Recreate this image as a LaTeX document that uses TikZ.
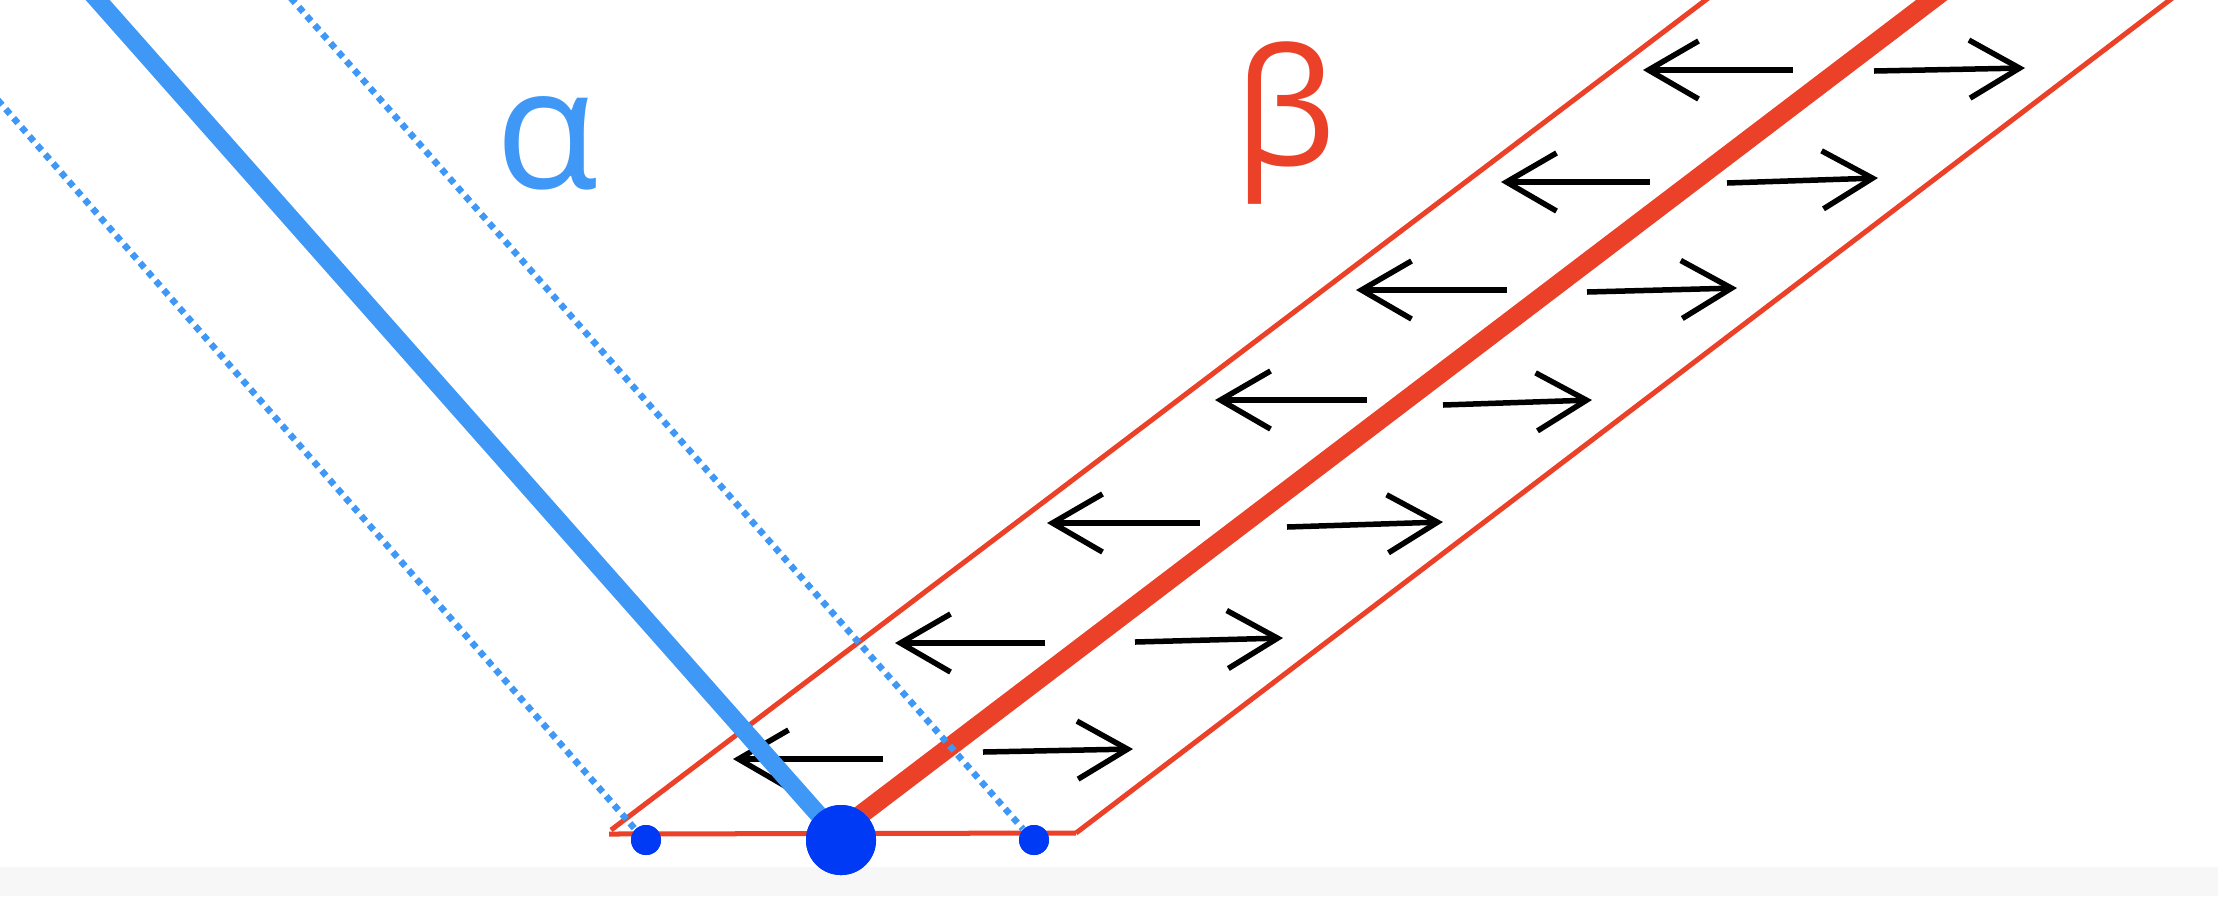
\documentclass[tikz,border=0pt]{standalone}
\usepackage{fontspec}
\setmainfont{Open Sans}
\usetikzlibrary{arrows.meta}

\definecolor{hellblau}{RGB}{63,151,246}
\definecolor{rot}{RGB}{235,65,40}
\definecolor{punkt}{RGB}{0,58,245}

\tikzset{
  pfeil/.style={line width=0.055cm, -{Straight Barb[length=0.5cm,width=0.58cm]}},
  kante/.style={rot, line width=0.05cm},
  punktiert/.style={hellblau, line width=0.065cm, dash pattern=on 0.065cm off 0.055cm},
  punkt/.style={circle, fill=punkt, inner sep=0pt}
}

\begin{document}
\begin{tikzpicture}[x=0.01cm,y=-0.01cm]
          \useasboundingbox (0,0) rectangle (2218,896);
          \fill[black!3] (0,867) rectangle (2218,896);

          %Ecken
          \coordinate (ul) at (609,834);
          \coordinate (ur) at (1076,833);
          \coordinate (uk) at (611,830);
          \coordinate (ol) at (1732,-20);
          \coordinate (or) at (2196,-20);
          \coordinate (rs) at (830,838);
          \coordinate (ro) at (1958,-20);

          %Streifen
          \draw[kante] (uk) -- (ol);
          \draw[kante] (ur) -- (or);
          \draw[kante] (ul) -- (ur);
          \draw[rot, line width=0.19cm] (rs) -- (ro);

          %Pfeile
          \foreach \lx/\ly/\le/\rx/\ry/\rex/\rey [count=\i] in {1643/70/1793/1874/71/2025/68,
              1501/182/1650/1727/183/1878/178, 1356/290/1507/1587/292/1737/288,
              1215/400/1367/1443/405/1592/400, 1047/523/1200/1287/527/1443/522,
              895/643/1045/1135/642/1283/638, 733/759/883/983/752/1133/749}{
            \coordinate (la\i) at (\le,\ly);
            \coordinate (lb\i) at (\lx,\ly);
            \coordinate (ra\i) at (\rx,\ry);
            \coordinate (rb\i) at (\rex,\rey);
            \draw[pfeil] (la\i) -- (lb\i);
            \draw[pfeil] (ra\i) -- (rb\i);
          }

          %Punkte
          \node[punkt, minimum size=0.7cm] (mitte) at (841,840) {};
          \node[punkt, minimum size=0.3cm] (links) at (646,840) {};
          \node[punkt, minimum size=0.3cm] (rechts) at (1034,840) {};

          %blaue Linien
          \coordinate (bo) at (80,-20);
          \coordinate (po) at (-18,82);
          \coordinate (qo) at (275,-20);
          \draw[hellblau, line width=0.18cm] (bo) -- (mitte.center);
          \draw[punktiert] (po) -- (links.north west);
          \draw[punktiert] (qo) -- (rechts.north west);
          \node[punkt, minimum size=0.7cm] at (mitte) {};
          \node[punkt, minimum size=0.3cm] at (links) {};
          \node[punkt, minimum size=0.3cm] at (rechts) {};

          %Beschriftung
          \node[text=hellblau, font=\fontsize{48}{48}\selectfont, anchor=base] (alpha) at (547,188) {α};
          \node[text=rot, font=\fontsize{46}{46}\selectfont, anchor=base] (beta) at (1285,165) {β};

        \end{tikzpicture}
\end{document}
